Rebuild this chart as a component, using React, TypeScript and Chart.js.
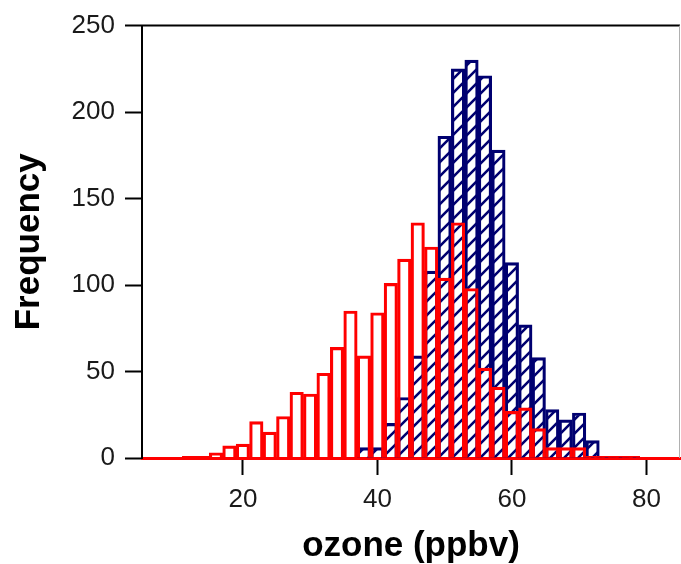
import React, { useEffect, useRef } from "react";
import { Chart, registerables } from "chart.js";

Chart.register(...registerables);

// Bin centres (ppbv), bin width 2
const binCenters = [
  6, 8, 10, 12, 14, 16, 18, 20, 22, 24, 26, 28, 30, 32, 34, 36, 38, 40, 42, 44,
  46, 48, 50, 52, 54, 56, 58, 60, 62, 64, 66, 68, 70, 72, 74, 76, 78, 80, 82, 84,
];

// Red outlined histogram
const redCounts = [
  0, 0, 0, 1, 1, 3, 7, 8, 21, 15, 24, 38, 37, 49, 64, 85, 59, 84, 101, 115,
  136, 122, 104, 136, 98, 52, 41, 27, 29, 17, 6, 6, 6, 1, 1, 1, 1, 0, 0, 0,
];

// Navy hatched histogram
const blueCounts = [
  0, 0, 0, 0, 0, 0, 0, 0, 0, 0, 0, 0, 0, 0, 0, 0, 6, 6, 20, 35,
  59, 108, 186, 225, 230, 221, 178, 113, 77, 58, 28, 22, 26, 10, 1, 1, 1, 0, 0, 0,
];

const xTicks = [20, 40, 60, 80];
const yTicks = [0, 50, 100, 150, 200, 250];

const NAVY = "#000070";
const RED = "#ff0000";
const FONT = "'Liberation Sans', Arial, Helvetica, sans-serif";

function makeHatch(): CanvasPattern | string {
  const s = 14;
  const c = document.createElement("canvas");
  c.width = s;
  c.height = s;
  const g = c.getContext("2d");
  if (!g) return NAVY;
  g.strokeStyle = NAVY;
  g.lineWidth = 2.6;
  g.beginPath();
  g.moveTo(-1, s + 1);
  g.lineTo(s + 1, -1);
  g.moveTo(-2, 2);
  g.lineTo(2, -2);
  g.moveTo(s - 2, s + 2);
  g.lineTo(s + 2, s - 2);
  g.stroke();
  const p = g.createPattern(c, "repeat");
  return p || NAVY;
}

const framePlugin = {
  id: "frame",
  afterDatasetsDraw(chart: any) {
    const { ctx, chartArea } = chart;
    ctx.save();
    ctx.strokeStyle = "#000";
    ctx.lineWidth = 2;
    ctx.beginPath();
    ctx.moveTo(chartArea.left - 1, chartArea.top);
    ctx.lineTo(chartArea.right, chartArea.top);
    ctx.stroke();
    ctx.strokeStyle = "#b0b0b0";
    ctx.lineWidth = 1;
    ctx.beginPath();
    ctx.moveTo(chartArea.right - 0.5, chartArea.top);
    ctx.lineTo(chartArea.right - 0.5, chartArea.bottom);
    ctx.stroke();
    ctx.restore();
  },
};

export default function App() {
  const ref = useRef<HTMLCanvasElement | null>(null);

  useEffect(() => {
    document.body.style.margin = "0";
    const canvas = ref.current;
    if (!canvas) return;
    const hatch = makeHatch();
    const chart = new Chart(canvas, {
      type: "bar",
      data: {
        datasets: [
          {
            label: "red",
            data: binCenters.map((x, i) => ({ x, y: redCounts[i] })),
            backgroundColor: "rgba(0,0,0,0)",
            borderColor: RED,
            borderWidth: 2.5,
            borderSkipped: "start",
            barPercentage: 1,
            categoryPercentage: 1,
            grouped: false,
            order: 0,
          } as any,
          {
            label: "blue",
            data: binCenters.map((x, i) => ({ x, y: blueCounts[i] })),
            backgroundColor: hatch as any,
            borderColor: NAVY,
            borderWidth: 2.5,
            borderSkipped: "start",
            barPercentage: 1,
            categoryPercentage: 1,
            grouped: false,
            order: 1,
          } as any,
        ],
      },
      options: {
        responsive: false,
        animation: false,
        devicePixelRatio: 1,
        layout: { padding: { top: 22, right: 1, left: 0, bottom: 0 } },
        plugins: {
          legend: { display: false },
          tooltip: { enabled: false },
        },
        scales: {
          x: {
            type: "linear",
            min: 5,
            max: 85,
            offset: false,
            afterBuildTicks: (s: any) => {
              s.ticks = xTicks.map((v) => ({ value: v }));
            },
            afterFit: (s: any) => {
              s.height = 106;
            },
            grid: {
              display: true,
              offset: false,
              drawOnChartArea: false,
              drawTicks: true,
              tickLength: 17,
              tickColor: "#000",
              tickWidth: 2,
            },
            border: { display: true, color: RED, width: 3 },
            ticks: {
              color: "#1a1a1a",
              font: { family: FONT, size: 26 },
              padding: 9,
              maxRotation: 0,
            },
            title: {
              display: true,
              text: "ozone (ppbv)",
              color: "#000",
              font: { family: FONT, size: 35, weight: "bold", lineHeight: 1 },
              padding: { top: 0, bottom: 0 },
            },
          },
          y: {
            min: 0,
            max: 250,
            afterBuildTicks: (s: any) => {
              s.ticks = yTicks.map((v) => ({ value: v }));
            },
            afterFit: (s: any) => {
              s.width = 142;
            },
            grid: {
              display: true,
              drawOnChartArea: false,
              drawTicks: true,
              tickLength: 17,
              tickColor: "#000",
              tickWidth: 2,
            },
            border: { display: true, color: "#000", width: 2 },
            ticks: {
              color: "#1a1a1a",
              font: { family: FONT, size: 26 },
              padding: 10,
            },
            title: {
              display: true,
              text: "Frequency",
              color: "#000",
              font: { family: FONT, size: 35, weight: "bold", lineHeight: 1.2 },
              padding: { top: 8, bottom: 0 },
            },
          },
        },
      },
      plugins: [framePlugin],
    });
    return () => chart.destroy();
  }, []);

  return (
    <div style={{ width: 681, height: 564 }}>
      <canvas ref={ref} width={681} height={564} style={{ display: "block" }} />
    </div>
  );
}
